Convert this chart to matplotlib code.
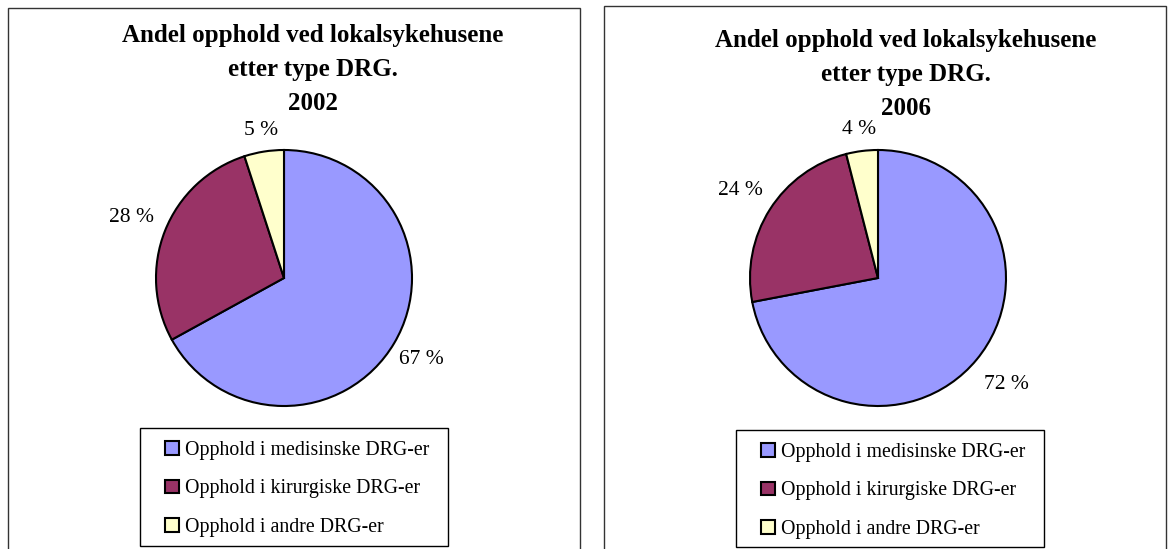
import numpy as np
import matplotlib.pyplot as plt
from matplotlib.patches import Rectangle

# ---------------------------------------------------------------
# Data
# ---------------------------------------------------------------
categories = ['Opphold i medisinske DRG-er',
              'Opphold i kirurgiske DRG-er',
              'Opphold i andre DRG-er']
years = ['2002', '2006']
shares_2002 = [67, 28, 5]
shares_2006 = [72, 24, 4]
title_text = 'Andel opphold ved lokalsykehusene\netter type DRG.\n'

colors = ['#9999FF', '#993366', '#FFFFCC']

# ---------------------------------------------------------------
# Layout (pixels)
# ---------------------------------------------------------------
W, H = 1172, 549
plt.rcParams['font.family'] = ['Liberation Serif', 'DejaVu Serif']

fig = plt.figure(figsize=(W / 100, H / 100), dpi=100)

panels = [
    # border (x0, y0, x1), pie centre, title centre x / top y, legend box (x0, y0, x1, y1),
    # label distance per slice (in radii)
    dict(border=(8, 8, 580), centre=(284, 278), title_x=313, title_y=24,
         legend=(140, 428, 448, 546), label_dist=[1.25, 1.28, 1.17]),
    dict(border=(604, 6, 1166), centre=(878, 278), title_x=906, title_y=29,
         legend=(736, 430, 1044, 547), label_dist=[1.30, 1.27, 1.17]),
]

AX_PX = 320
LIM = 1.25   # radius 1 -> 128 px

for panel, year, shares in zip(panels, years, [shares_2002, shares_2006]):
    bx0, by0, bx1 = panel['border']
    fig.patches.append(Rectangle((bx0 / W, -0.01), (bx1 - bx0) / W, 1.01 - by0 / H,
                                 transform=fig.transFigure, fill=False,
                                 edgecolor='#333333', linewidth=1.0))

    cx, cy = panel['centre']
    ax = fig.add_axes([(cx - AX_PX / 2) / W, 1 - (cy + AX_PX / 2) / H,
                       AX_PX / W, AX_PX / H])
    wedges, _, autotexts = ax.pie(shares, colors=colors, startangle=90,
                                  counterclock=False, radius=1,
                                  autopct=lambda p: f'{p:.0f} %',
                                  wedgeprops=dict(edgecolor='black', linewidth=1.5),
                                  textprops=dict(fontsize=15.5))
    # move the percentage labels just outside each slice
    for w, t, d in zip(wedges, autotexts, panel['label_dist']):
        ang = np.radians((w.theta1 + w.theta2) / 2)
        t.set_position((d * np.cos(ang), d * np.sin(ang)))
    ax.set_xlim(-LIM, LIM)
    ax.set_ylim(-LIM, LIM)
    ax.set_aspect('equal')
    ax.axis('off')

    fig.text(panel['title_x'] / W, 1 - panel['title_y'] / H, title_text + year,
             ha='center', va='top', fontsize=18, fontweight='bold',
             linespacing=1.62)

    # legend box drawn separately, entries placed inside it
    lx0, ly0, lx1, ly1 = panel['legend']
    fig.patches.append(Rectangle((lx0 / W, 1 - ly1 / H), (lx1 - lx0) / W, (ly1 - ly0) / H,
                                 transform=fig.transFigure, fill=False,
                                 edgecolor='black', linewidth=1.0))
    leg = ax.legend(wedges, categories, loc='upper left',
                    bbox_to_anchor=((lx0 + 25) / W, 1 - (ly0 + 13) / H),
                    bbox_transform=fig.transFigure, frameon=False, fontsize=14.3,
                    handlelength=0.7, handleheight=0.7, handletextpad=0.3,
                    labelspacing=0.98, borderpad=0, borderaxespad=0)
    for h in leg.legend_handles:
        h.set_linewidth(1.5)

fig.savefig('out.png', dpi=100)
